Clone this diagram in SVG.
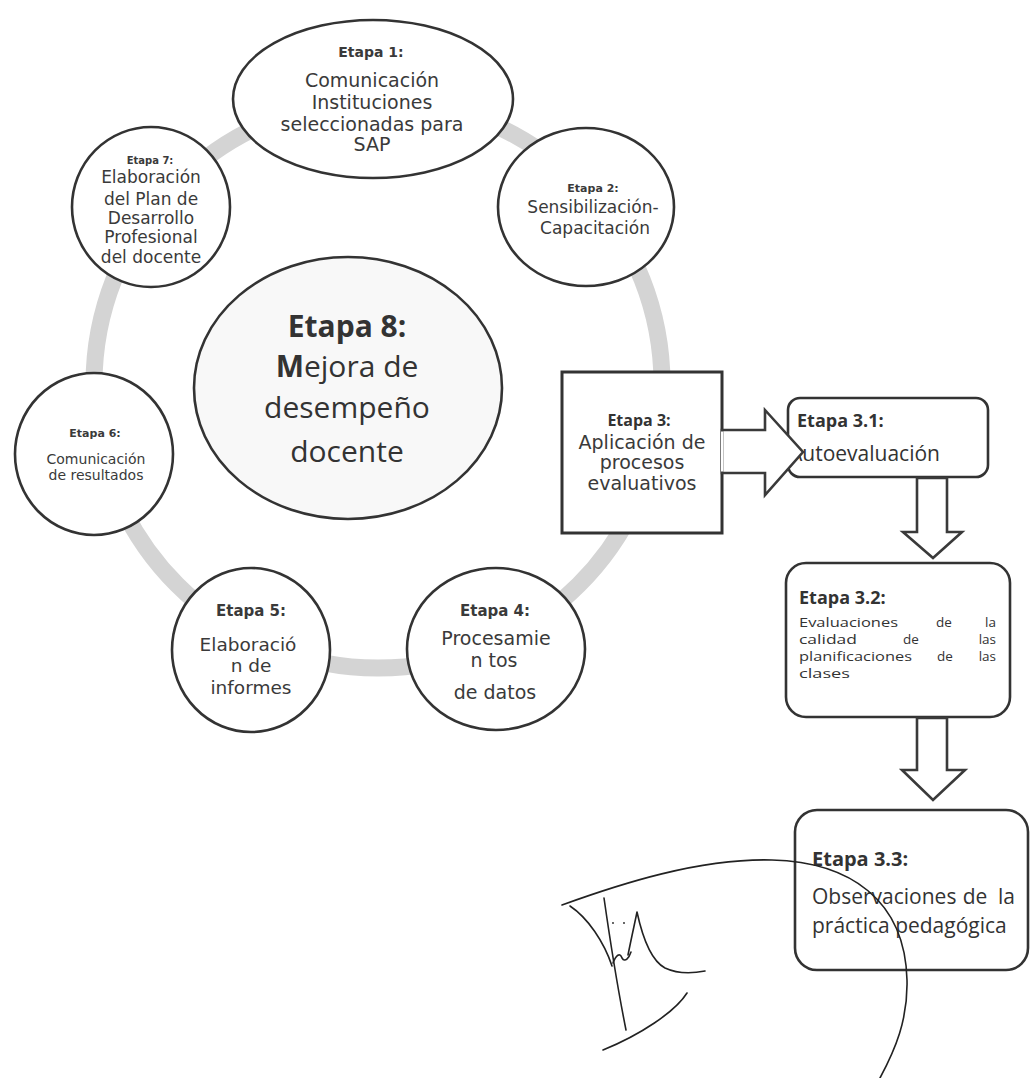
<svg xmlns="http://www.w3.org/2000/svg" width="1030" height="1078" viewBox="0 0 1030 1078">
<defs>
<style>
.ring{fill:none;stroke:#d4d4d4;stroke-width:17}
.node{fill:#fff;stroke:#333;stroke-width:2.6}
.t{font-family:"DejaVu Sans","Liberation Sans",sans-serif;fill:#3a3a3a;text-anchor:middle}
.b{font-weight:bold}
.c{font-family:"Open Sans","Liberation Sans",sans-serif;fill:#333}
.arrow{fill:#fff;stroke:#3a3a3a;stroke-width:2.6;stroke-linejoin:miter}
.sig{fill:none;stroke:#222;stroke-width:1.6;stroke-linecap:round;stroke-linejoin:round}
</style>
</defs>
<rect width="1030" height="1078" fill="#fff"/>

<g id="cycle-ring">
<circle class="ring" cx="378" cy="384" r="284"/>
</g>

<g id="etapa1">
<ellipse class="node" cx="373" cy="99" rx="140" ry="79"/>
<text class="t b" x="371" y="57" font-size="14">Etapa 1:</text>
<text class="t" x="372" y="87" font-size="19">Comunicación</text>
<text class="t" x="372" y="109" font-size="19">Instituciones</text>
<text class="t" x="372" y="131" font-size="19">seleccionadas para</text>
<text class="t" x="372" y="151" font-size="19">SAP</text>
</g>

<g id="etapa2">
<ellipse class="node" cx="586" cy="207" rx="88" ry="79"/>
<text class="t b" x="593" y="192" font-size="11">Etapa 2:</text>
<text class="t" x="593" y="213" font-size="17">Sensibilización-</text>
<text class="t" x="595" y="234" font-size="17">Capacitación</text>
</g>

<g id="etapa7">
<ellipse class="node" cx="151" cy="207" rx="79" ry="80"/>
<text class="t b" x="150" y="164" font-size="10">Etapa 7:</text>
<text class="t" x="151" y="183" font-size="17">Elaboración</text>
<text class="t" x="151" y="205" font-size="17">del Plan de</text>
<text class="t" x="151" y="224" font-size="17">Desarrollo</text>
<text class="t" x="151" y="243" font-size="17">Profesional</text>
<text class="t" x="151" y="263" font-size="17">del docente</text>
</g>

<g id="etapa8">
<ellipse cx="348" cy="388" rx="154" ry="131" fill="#f8f8f8" stroke="#333" stroke-width="2.6"/>
<text class="c b" x="347" y="337" font-size="30" text-anchor="middle">Etapa 8:</text>
<text class="c" x="347" y="377" font-size="30" text-anchor="middle"><tspan font-weight="bold">M</tspan>ejora de</text>
<text class="c" x="347" y="418" font-size="30" text-anchor="middle">desempeño</text>
<text class="c" x="347" y="462" font-size="30" text-anchor="middle">docente</text>
</g>

<g id="etapa6">
<ellipse class="node" cx="94" cy="454" rx="79" ry="81"/>
<text class="t b" x="95" y="437" font-size="11">Etapa 6:</text>
<text class="t" x="96" y="464" font-size="14">Comunicación</text>
<text class="t" x="96" y="480" font-size="14">de resultados</text>
</g>

<g id="etapa5">
<ellipse class="node" cx="251" cy="650" rx="79" ry="82"/>
<text class="t b" x="251" y="616" font-size="15">Etapa 5:</text>
<text class="t" x="248" y="651" font-size="18.5">Elaboració</text>
<text class="t" x="251" y="672" font-size="18.5">n de</text>
<text class="t" x="251" y="694" font-size="18.5">informes</text>
</g>

<g id="etapa4">
<ellipse class="node" cx="496" cy="649" rx="89" ry="81"/>
<text class="t b" x="495" y="616" font-size="15">Etapa 4:</text>
<text class="t" x="496" y="645" font-size="19">Procesamie</text>
<text class="t" x="494" y="667" font-size="19">n tos</text>
<text class="t" x="495" y="699" font-size="19">de datos</text>
</g>

<g id="etapa3">
<rect x="562" y="372" width="160" height="161" fill="#fff" stroke="#333" stroke-width="3"/>
<text class="c b" x="639" y="426" font-size="16" text-anchor="middle">Etapa 3:</text>
<text class="t" x="642" y="449" font-size="19">Aplicación de</text>
<text class="t" x="642" y="469" font-size="19">procesos</text>
<text class="t" x="642" y="490" font-size="19">evaluativos</text>
</g>

<g id="etapa3-1">
<rect class="node" x="788" y="398" width="200" height="79" rx="12"/>
<text class="c b" x="797" y="427" font-size="18">Etapa 3.1:</text>
<text class="c" x="789" y="461" font-size="21">Autoevaluación</text>
</g>

<g id="etapa3-2">
<rect class="node" x="786" y="563" width="224" height="154" rx="20"/>
<text class="c b" x="799" y="604" font-size="18">Etapa 3.2:</text>
<g class="c" font-size="13.5">
<text x="799" y="627" textLength="99" lengthAdjust="spacingAndGlyphs">Evaluaciones</text>
<text x="944" y="627" text-anchor="middle">de</text>
<text x="996" y="627" text-anchor="end">la</text>
<text x="799" y="644" textLength="58" lengthAdjust="spacingAndGlyphs">calidad</text>
<text x="911" y="644" text-anchor="middle">de</text>
<text x="996" y="644" text-anchor="end">las</text>
<text x="799" y="661" textLength="113" lengthAdjust="spacingAndGlyphs">planificaciones</text>
<text x="945" y="661" text-anchor="middle">de</text>
<text x="996" y="661" text-anchor="end">las</text>
<text x="799" y="678" textLength="51" lengthAdjust="spacingAndGlyphs">clases</text>
</g>
</g>

<g id="etapa3-3">
<rect class="node" x="795" y="810" width="233" height="160" rx="22"/>
<text class="c b" x="812" y="866" font-size="20">Etapa 3.3:</text>
<g class="c" font-size="21">
<text x="812" y="904">Observaciones</text>
<text x="975" y="904" text-anchor="middle">de</text>
<text x="1015" y="904" text-anchor="end">la</text>
<text x="812" y="933">práctica pedagógica</text>
</g>
</g>

<g id="connectors">
<polygon class="arrow" points="722,430 765,430 765,410 803,452 765,495 765,473 722,473"/>
<line x1="722" y1="431.5" x2="722" y2="471.5" stroke="#fff" stroke-width="2"/>
<polygon class="arrow" points="917,478 917,532 903,532 933,558 962,532 947,532 947,478" stroke-width="2.2"/>
<polygon class="arrow" points="917,718 917,770 902,770 933,800 965,770 947,770 947,718" stroke-width="2.2"/>
</g>

<g id="signature">
<path class="sig" d="M562,905 C620,884 700,858 772,860 C850,862 905,900 907,980 C908,1020 895,1050 880,1078"/>
<path class="sig" d="M570,906 C588,918 604,942 612,966"/>
<path class="sig" d="M604,898 C610,940 618,990 626,1030"/>
<path class="sig" d="M613,963 C616,955 620,952 622,958 C625,963 629,958 631,952"/>
<path class="sig" d="M628,955 C632,935 635,922 637,912 C642,935 650,960 665,968 C680,975 695,973 705,971"/>
<path class="sig" d="M603,1050 C640,1035 675,1012 687,993"/>
<circle cx="613" cy="923" r="0.9" fill="#222"/>
<circle cx="624" cy="923" r="0.9" fill="#222"/>
</g>
</svg>
